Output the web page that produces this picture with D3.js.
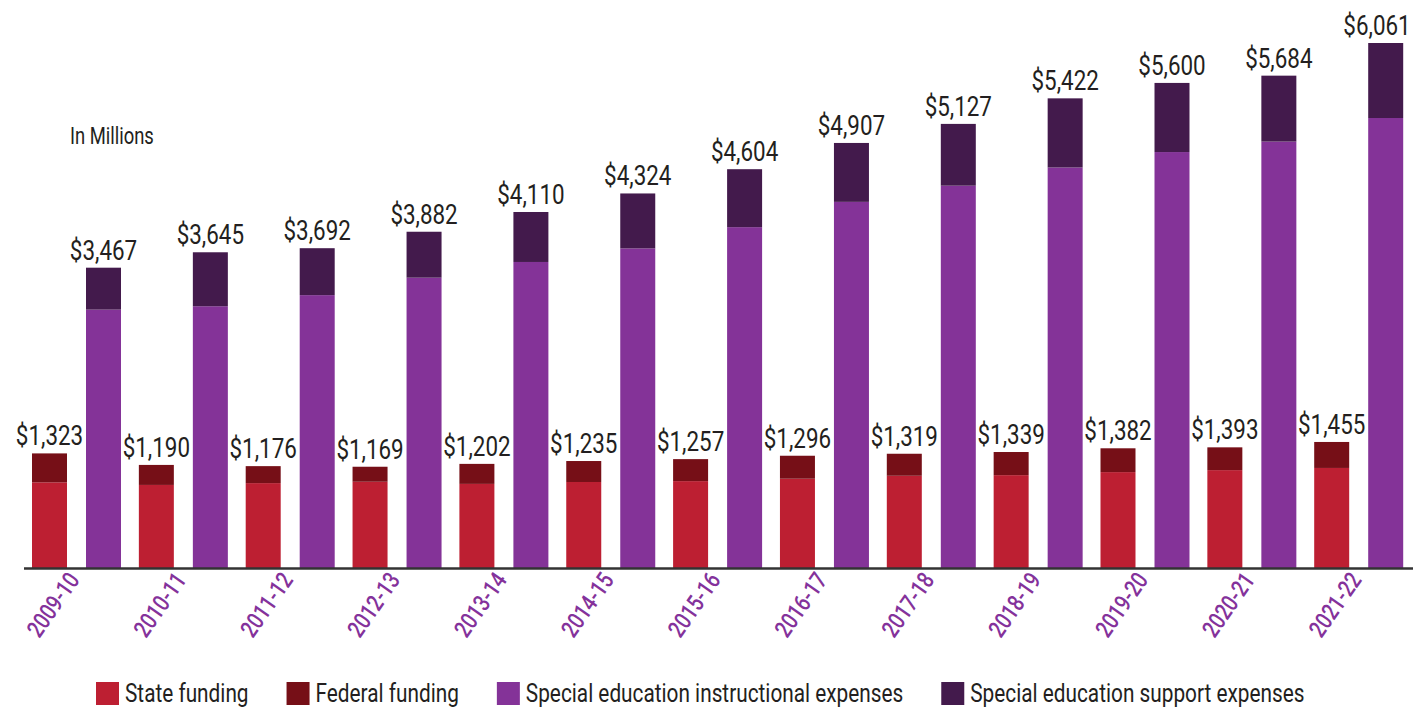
<!DOCTYPE html>
<html>
<head>
<meta charset="utf-8">
<script src="https://cdn.jsdelivr.net/npm/d3@7"></script>
<style>
  body { margin: 0; background: #fff; }
  text { font-family: Roboto, "Open Sans", sans-serif; }
</style>
</head>
<body>
<div id="chart"></div>
<script>
var years = ["2009-10", "2010-11", "2011-12", "2012-13", "2013-14", "2014-15", "2015-16",
  "2016-17", "2017-18", "2018-19", "2019-20", "2020-21", "2021-22"];

// funding (in millions)
var stateFunding = [989, 959, 980, 996, 971, 993, 1003, 1031, 1065, 1072, 1107, 1130, 1155];
var federalFunding = [334, 231, 196, 173, 231, 242, 254, 265, 254, 267, 275, 263, 300];

// expenses (in millions)
var instructional = [2983, 3022, 3150, 3352, 3533, 3690, 3935, 4227, 4414, 4624, 4802, 4923, 5195];
var support = [484, 623, 542, 530, 577, 634, 669, 680, 713, 798, 798, 761, 866];

var legendNames = ["State funding", "Federal funding",
  "Special education instructional expenses", "Special education support expenses"];
var colors = ["#bd1f32", "#760f17", "#843398", "#431a4c"];

var width = 1413, height = 709;
var baseY = 568;
var sx = 0.8; // squeeze text sideways, the original uses a condensed face

var rows = years.map(function (yr, i) {
  return {
    year: yr,
    state: stateFunding[i],
    federal: federalFunding[i],
    instr: instructional[i],
    support: support[i]
  };
});

var fundTotals = rows.map(function (d) { return d.state + d.federal; });
var expTotals = rows.map(function (d) { return d.instr + d.support; });

var svg = d3.select("#chart").append("svg")
  .attr("width", width)
  .attr("height", height);

var x = d3.scaleBand()
  .domain(years)
  .range([23, 23 + 13 * 106.85])
  .padding(0);

var inner = d3.scaleBand()
  .domain(["funding", "expenses"])
  .range([9, 98])
  .paddingInner(0.352)
  .paddingOuter(0);

var y = d3.scaleLinear()
  .domain([0, d3.max(expTotals)])
  .range([baseY, 43]);

var fmt = d3.format("$,.0f");

var fundStack = d3.stack().keys(["state", "federal"])(rows);
var expStack = d3.stack().keys(["instr", "support"])(rows);

function drawStack(stack, group, colorOffset) {
  svg.append("g").selectAll("g")
    .data(stack)
    .enter().append("g")
    .attr("fill", function (d, i) { return colors[colorOffset + i]; })
    .selectAll("rect")
    .data(function (d) { return d; })
    .enter().append("rect")
    .attr("x", function (d) { return x(d.data.year) + inner(group); })
    .attr("width", inner.bandwidth())
    .attr("y", function (d) { return y(d[1]); })
    .attr("height", function (d) { return y(d[0]) - y(d[1]); });
}

drawStack(fundStack, "funding", 0);
drawStack(expStack, "expenses", 2);

// total labels
function drawTotals(totals, group) {
  svg.append("g").selectAll("text")
    .data(totals)
    .enter().append("text")
    .attr("transform", function (d, i) {
      var cx = x(years[i]) + inner(group) + inner.bandwidth() / 2;
      cx = Math.min(cx, width - 36);
      return "translate(" + cx + "," + (y(d) - 8) + ") scale(" + sx + ",1)";
    })
    .attr("text-anchor", "middle")
    .attr("font-size", 28)
    .attr("fill", "#231f20")
    .text(function (d) { return fmt(d); });
}
drawTotals(fundTotals, "funding");
drawTotals(expTotals, "expenses");

// baseline
svg.append("line")
  .attr("x1", 24).attr("x2", width)
  .attr("y1", baseY + 0.5).attr("y2", baseY + 0.5)
  .attr("stroke", "#333")
  .attr("stroke-width", 2.5);

// year labels
svg.append("g").selectAll("text")
  .data(years)
  .enter().append("text")
  .attr("transform", function (d) {
    var cx = x(d) + x.bandwidth() / 2 + 4;
    return "translate(" + cx + "," + (baseY + 12) + ") rotate(-55) scale(" + sx + ",1)";
  })
  .attr("text-anchor", "end")
  .attr("font-size", 24)
  .attr("font-weight", 500)
  .attr("fill", "#84329b")
  .text(function (d) { return d; });

svg.append("text")
  .attr("transform", "translate(70,144) scale(" + sx + ",1)")
  .attr("font-size", 23)
  .attr("fill", "#231f20")
  .text("In Millions");

// legend
var legend = svg.append("g");
var lx = 96;
legendNames.forEach(function (name, i) {
  legend.append("rect")
    .attr("x", lx).attr("y", 682)
    .attr("width", 23).attr("height", 23)
    .attr("fill", colors[i]);
  var t = legend.append("text")
    .attr("transform", "translate(" + (lx + 29) + ",702) scale(" + sx + ",1)")
    .attr("font-size", 26)
    .attr("fill", "#231f20")
    .text(name);
  lx += 29 + t.node().getComputedTextLength() * sx + 38;
});
</script>
</body>
</html>
